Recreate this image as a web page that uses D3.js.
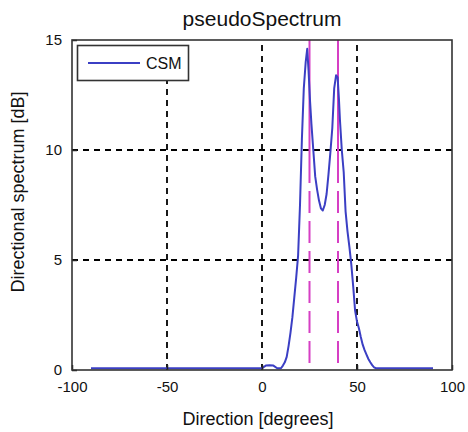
<!DOCTYPE html>
<html>
<head>
<meta charset="utf-8">
<script src="https://cdn.jsdelivr.net/npm/d3@7/dist/d3.min.js"></script>
<style>
  html, body { margin: 0; padding: 0; background: #fff; }
  svg { display: block; }
  text { font-family: "Liberation Sans", Arial, sans-serif; fill: #111; }
</style>
</head>
<body>
<svg class="d3" width="468" height="432"></svg>
<script>
// directions (degrees) and CSM pseudo spectrum (dB)
const directions = [-90, 0, 2, 4, 6, 8, 10, 11, 12, 13, 14, 15, 16, 17, 18, 19, 20, 21, 22, 23, 23.8,
  24.5, 25.3, 26, 27, 28, 29, 30, 31, 32, 33, 34, 35, 36, 37, 38, 39, 39.8, 40.5, 41, 42, 43,
  44, 45, 46, 47, 48, 49, 50, 51, 52, 53, 54, 55, 56, 57, 58, 59, 60, 90];
const csm = [0.08, 0.08, 0.2, 0.22, 0.2, 0.08, 0.08, 0.2, 0.35, 0.6, 1.1, 1.7, 2.4, 3.3, 4.2, 5.2, 7.5, 10.5, 12.8, 14.0, 14.6,
  13.6, 12.2, 11.2, 10.0, 8.8, 8.2, 7.7, 7.35, 7.25, 7.5, 8.0, 8.9, 9.9, 11.0, 12.8, 13.4, 13.3, 12.3, 11.4, 10.0, 9.0,
  7.2, 6.3, 5.6, 4.8, 3.8, 2.7, 2.2, 1.9, 1.5, 1.15, 0.9, 0.7, 0.5, 0.35, 0.22, 0.12, 0.08, 0.08];

// true source directions (magenta markers)
const sources = [25, 40];

const xTicks = [-100, -50, 0, 50, 100];
const yTicks = [0, 5, 10, 15];

const title = "pseudoSpectrum";
const xLabel = "Direction [degrees]";
const yLabel = "Directional spectrum [dB]";
const legendLabel = "CSM";

const svg = d3.select("svg.d3");
const width = 468, height = 432;
const margin = { top: 40, right: 16, bottom: 62, left: 72 };
const narrow = "'Liberation Sans Narrow', 'Liberation Sans', Arial, sans-serif";

const x = d3.scaleLinear().domain([-100, 100]).range([margin.left, width - margin.right]);
const y = d3.scaleLinear().domain([0, 15]).range([height - margin.bottom, margin.top]);

// grid
const grid = svg.append("g").attr("class", "grid")
  .attr("stroke", "#000").attr("stroke-width", 1.8).attr("stroke-dasharray", "6,5");
grid.selectAll("line.v").data(xTicks.slice(1, -1)).enter().append("line")
  .attr("x1", d => x(d)).attr("x2", d => x(d))
  .attr("y1", y(0)).attr("y2", y(15));
grid.selectAll("line.h").data(yTicks.slice(1, -1)).enter().append("line")
  .attr("y1", d => y(d)).attr("y2", d => y(d))
  .attr("x1", x(-100)).attr("x2", x(100));

// magenta source markers: solid near the top, dashed below
const mag = svg.append("g").attr("stroke", "#d63fc4").attr("stroke-width", 2);
mag.selectAll("line.top").data(sources).enter().append("line")
  .attr("x1", d => x(d)).attr("x2", d => x(d))
  .attr("y1", y(15)).attr("y2", y(9.5));
mag.selectAll("line.bot").data(sources).enter().append("line")
  .attr("x1", d => x(d)).attr("x2", d => x(d))
  .attr("y1", y(9.5)).attr("y2", y(0))
  .attr("stroke-dasharray", "22,8");

// spectrum curve
const pts = directions.map((d, i) => [d, csm[i]]);
svg.append("path")
  .datum(pts)
  .attr("fill", "none")
  .attr("stroke", "#3b3fc4")
  .attr("stroke-width", 2)
  .attr("stroke-linejoin", "round")
  .attr("d", d3.line().x(d => x(d[0])).y(d => y(d[1])));

// axes
const xAxis = svg.append("g")
  .attr("transform", `translate(0,${y(0)})`)
  .call(d3.axisBottom(x).tickValues(xTicks).tickFormat(d => String(d)).tickSize(-5).tickPadding(11));
const yAxis = svg.append("g")
  .attr("transform", `translate(${x(-100)},0)`)
  .call(d3.axisLeft(y).tickValues(yTicks).tickFormat(d => String(d)).tickSize(-5).tickPadding(10));
[xAxis, yAxis].forEach(a => {
  a.select(".domain").remove();
  a.selectAll("line").attr("stroke", "#222").attr("stroke-width", 1.5);
  a.selectAll("text").attr("font-size", 15).attr("font-family", narrow).attr("fill", "#111");
});
xAxis.selectAll("text").attr("dy", "0.71em");

// box
svg.append("rect")
  .attr("x", x(-100)).attr("y", y(15))
  .attr("width", x(100) - x(-100)).attr("height", y(0) - y(15))
  .attr("fill", "none").attr("stroke", "#333").attr("stroke-width", 1.6);

// legend
const lg = svg.append("g");
lg.append("rect")
  .attr("x", 77.5).attr("y", 45.5).attr("width", 111).attr("height", 35)
  .attr("fill", "#fff").attr("stroke", "#333").attr("stroke-width", 1.6);
lg.append("line")
  .attr("x1", 88).attr("x2", 140).attr("y1", 63).attr("y2", 63)
  .attr("stroke", "#3b3fc4").attr("stroke-width", 2);
lg.append("text")
  .attr("x", 146).attr("y", 63).attr("dy", "0.35em")
  .attr("font-size", 16)
  .attr("font-family", narrow)
  .text(legendLabel);

// titles
svg.append("text")
  .attr("x", (x(-100) + x(100)) / 2).attr("y", 26)
  .attr("text-anchor", "middle").attr("font-size", 21)
  .text(title);
svg.append("text")
  .attr("x", 258).attr("y", 425)
  .attr("text-anchor", "middle").attr("font-size", 18)
  .text(xLabel);
svg.append("text")
  .attr("transform", "translate(24,192) rotate(-90)")
  .attr("text-anchor", "middle").attr("font-size", 18)
  .text(yLabel);
</script>
</body>
</html>
